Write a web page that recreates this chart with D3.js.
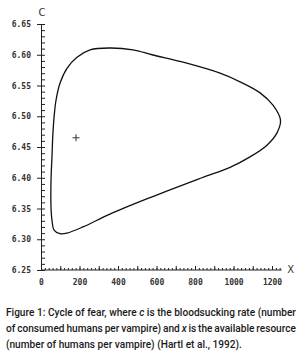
<!DOCTYPE html>
<html>
  <head>
    <meta charset="utf-8">
    <title>Cycle of fear</title>
    <style>
      body { margin: 0; background: #fff; }
      g.axis text { font: bold 8px "DejaVu Sans Mono"; fill: #333; }
      g.axis path, g.axis line { stroke: #222; }
      text.caption { font-family: "Roboto", sans-serif; font-weight: 500; font-size: 10.5px; fill: #1a1a1a; }
      text.axisName { font: 10px "DejaVu Sans"; fill: #333; }
    </style>
  </head>
  <body>
    <svg id="svg1" width="304" height="358"></svg>

    <script src="https://cdnjs.cloudflare.com/ajax/libs/d3/7.8.5/d3.min.js"></script>
    <script>
      // limit cycle (x = humans per vampire, c = bloodsucking rate)
      var cycleX = [52, 57, 68, 99, 135, 218, 358, 577, 836, 982, 1086, 1174, 1226, 1244,
                    1205, 1138, 1034, 930, 748, 577, 478, 358, 255, 187, 135, 99, 78, 68, 62, 57, 52];
      var cycleC = [6.352, 6.331, 6.315, 6.309, 6.310, 6.320, 6.341, 6.369, 6.400, 6.417, 6.434,
                    6.453, 6.473, 6.494, 6.518, 6.538, 6.556, 6.570, 6.587, 6.600, 6.608, 6.611,
                    6.608, 6.596, 6.578, 6.554, 6.526, 6.499, 6.473, 6.434, 6.396];
      var equilibrium = [182, 6.465];

      var xTicks = [0, 200, 400, 600, 800, 1000, 1200];
      var yTicks = [6.25, 6.30, 6.35, 6.40, 6.45, 6.50, 6.55, 6.60, 6.65];

      // caption lines; words wrapped in _ _ are set in italics
      var captionLines = [
        "Figure 1: Cycle of fear, where _c_ is the bloodsucking rate (number",
        "of consumed humans per vampire) and _x_ is the available resource",
        "(number of humans per vampire) (Hartl et al., 1992)."
      ];

      var svg = d3.select("#svg1");

      var x = d3.scaleLinear().domain([0, 1200]).range([41, 272]);
      var y = d3.scaleLinear().domain([6.25, 6.65]).range([270, 24]);

      // x axis: minor and medium ticks pointing up, then labels
      svg.append("g")
        .classed("axis", true)
        .attr("transform", "translate(0," + y(6.25) + ")")
        .call(d3.axisBottom(x).tickValues(d3.range(0, 1260, 20)).tickSize(-2).tickSizeOuter(0).tickFormat(""))
        .select("path.domain").remove();
      svg.append("g")
        .classed("axis", true)
        .attr("transform", "translate(0," + y(6.25) + ")")
        .call(d3.axisBottom(x).tickValues(d3.range(0, 1260, 100)).tickSize(-4).tickSizeOuter(0).tickFormat(""))
        .select("path.domain").remove();
      var xAxis = svg.append("g")
        .classed("axis", true)
        .attr("transform", "translate(0," + y(6.25) + ")")
        .call(d3.axisBottom(x).tickValues(xTicks).tickSize(0).tickPadding(9).tickFormat(d3.format("d")));
      xAxis.select("path.domain").attr("d", "M" + x(0) + ",0H" + x(1250));

      // y axis: major ticks out to the left, minor ticks in to the right
      svg.append("g")
        .classed("axis", true)
        .attr("transform", "translate(" + x(0) + ",0)")
        .call(d3.axisRight(y).tickValues(d3.range(0, 41).map(function(i) { return 6.25 + i * 0.01; }))
          .tickSize(4).tickSizeOuter(0).tickFormat(""))
        .select("path.domain").remove();
      svg.append("g")
        .classed("axis", true)
        .attr("transform", "translate(" + x(0) + ",0)")
        .call(d3.axisLeft(y).tickValues(yTicks).tickSize(4).tickSizeOuter(0).tickPadding(6).tickFormat(d3.format(".2f")));

      svg.append("text").classed("axisName", true)
        .attr("x", x(0) + 1).attr("y", y(6.65) - 8)
        .attr("text-anchor", "middle")
        .text("C");
      svg.append("text").classed("axisName", true)
        .attr("x", x(1250) + 9).attr("y", y(6.25) + 3)
        .attr("text-anchor", "middle")
        .text("X");

      // the cycle
      var pts = cycleX.map(function(d, i) { return [d, cycleC[i]]; });
      svg.append("path")
        .datum(pts)
        .attr("fill", "none")
        .attr("stroke", "#111")
        .attr("stroke-width", 1.3)
        .attr("d", d3.line()
          .x(function(d) { return x(d[0]); })
          .y(function(d) { return y(d[1]); })
          .curve(d3.curveCatmullRomClosed.alpha(0.5)));

      // equilibrium marker
      svg.append("path")
        .attr("transform", "translate(" + x(equilibrium[0]) + "," + y(equilibrium[1]) + ")")
        .attr("d", "M-3.5,0H3.5M0,-3.5V3.5")
        .attr("stroke", "#333")
        .attr("stroke-width", 1);

      // caption: condensed (squeezed horizontally) and justified like the printed figure
      var cap = svg.append("g");
      function measure(str, italic) {
        var t = cap.append("text").classed("caption", true)
          .attr("font-style", italic ? "italic" : null).text(str);
        var w = t.node().getComputedTextLength();
        t.remove();
        return w;
      }
      var words = captionLines.map(function(line) {
        return line.split(" ").map(function(w) {
          var italic = /^_.*_$/.test(w);
          var s = italic ? w.slice(1, -1) : w;
          return { s: s, italic: italic, w: measure(s, italic) };
        });
      });
      var spaceW = measure("n n") - measure("nn");
      var lastW = d3.sum(words[2], function(d) { return d.w; }) + spaceW * (words[2].length - 1);
      var k = 236 / lastW;                       // horizontal squeeze
      cap.attr("transform", "scale(" + k + ",1)");
      var left = 6 / k, right = 296 / k;

      words.forEach(function(ws, i) {
        var gap = spaceW;
        if (i < words.length - 1) {
          gap = (right - left - d3.sum(ws, function(d) { return d.w; })) / (ws.length - 1);
        }
        var cx = left;
        ws.forEach(function(d) {
          cap.append("text").classed("caption", true)
            .attr("x", cx).attr("y", 316 + i * 16)
            .attr("font-style", d.italic ? "italic" : null)
            .text(d.s);
          cx += d.w + gap;
        });
      });
    </script>
  </body>
</html>
